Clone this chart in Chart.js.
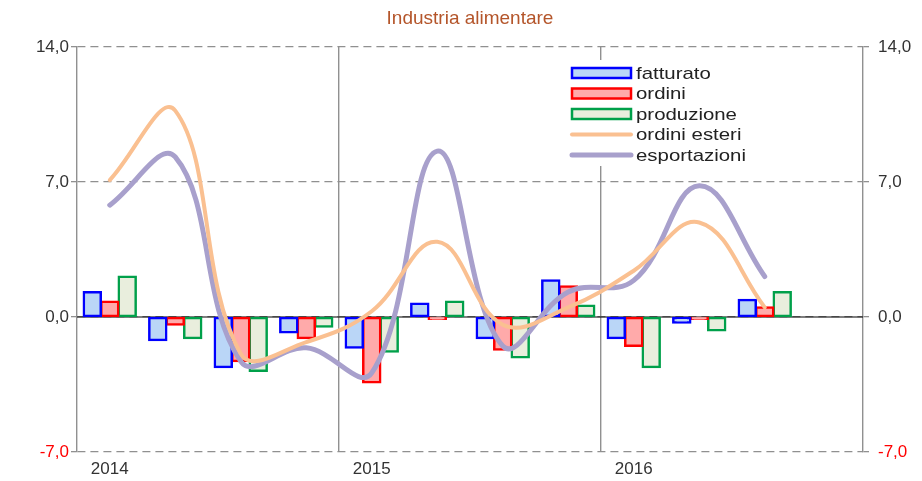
<!DOCTYPE html>
<html>
<head>
<meta charset="utf-8">
<script src="https://cdn.jsdelivr.net/npm/chart.js@4.4.1/dist/chart.umd.min.js"></script>
<style>
  body { margin: 0; background: #fff; }
  canvas { display: block; }
</style>
</head>
<body>
<canvas id="chart" width="922" height="481"></canvas>
<script>
// quarters 2014-2016, year label on first quarter
const quarters = ['2014', '', '', '', '2015', '', '', '', '2016', '', '', ''];
const yTicks = [-7, 0, 7, 14];

const fatturato    = [1.3, -1.2, -2.6, -0.8, -1.6, 0.7, -1.1, 1.9, -1.1, -0.3, 0.9, null];
const ordini       = [0.8, -0.4, -2.3, -1.1, -3.4, -0.1, -1.7, 1.6, -1.5, -0.1, 0.5, null];
const produzione   = [2.1, -1.1, -2.8, -0.5, -1.8, 0.8, -2.1, 0.6, -2.6, -0.7, 1.3, null];
const ordiniEsteri = [7.1, 10.7, -1.9, -1.3, 0.3, 3.9, -0.4, 0.5, 2.4, 4.9, 0.5, null];
const esportazioni = [5.8, 8.3, -2.3, -1.6, -2.9, 8.6, -1.5, 1.3, 1.9, 6.8, 2.1, null];

const FONT = '"Liberation Sans", Arial, sans-serif';
const GRID = '#909090';

const fmt = v => v.toFixed(1).replace('.', ',');
const tickColor = ctx => ctx.tick && ctx.tick.value < 0 ? '#ff0000' : '#333333';

// title, zero line and the boxed legend
const extras = {
    id: 'extras',
    beforeDatasetsDraw(chart) {
        const { ctx, chartArea, scales } = chart;
        const y0 = scales.y.getPixelForValue(0);
        ctx.save();
        ctx.strokeStyle = '#000';
        ctx.lineWidth = 1.2;
        ctx.beginPath();
        ctx.moveTo(chartArea.left, y0);
        ctx.lineTo(chartArea.right, y0);
        ctx.stroke();
        ctx.restore();
    },
    afterDraw(chart) {
        const { ctx, chartArea } = chart;
        ctx.save();
        ctx.fillStyle = '#b4552a';
        ctx.font = '19px ' + FONT;
        ctx.textAlign = 'center';
        ctx.textBaseline = 'middle';
        ctx.fillText('Industria alimentare', (chartArea.left + chartArea.right) / 2, 19);

        // legend
        ctx.fillStyle = '#fff';
        ctx.fillRect(566, 60, 192, 106);
        const x = 572, w = 59;
        chart.data.datasets.forEach((ds, i) => {
            const cy = 73 + i * 20.5;
            if (ds.type === 'line') {
                ctx.strokeStyle = ds.borderColor;
                ctx.lineWidth = ds.borderWidth;
                ctx.lineCap = 'round';
                ctx.beginPath();
                ctx.moveTo(x, cy);
                ctx.lineTo(x + w, cy);
                ctx.stroke();
            } else {
                ctx.fillStyle = ds.backgroundColor;
                ctx.fillRect(x, cy - 5, w, 10);
                ctx.strokeStyle = ds.borderColor;
                ctx.lineWidth = 2.5;
                ctx.strokeRect(x, cy - 5, w, 10);
            }
            ctx.save();
            ctx.translate(x + w + 5, cy);
            ctx.scale(1.2, 1);
            ctx.fillStyle = '#222';
            ctx.font = '17px ' + FONT;
            ctx.textAlign = 'left';
            ctx.fillText(ds.label, 0, 1);
            ctx.restore();
        });
        ctx.restore();
    }
};

const barSet = (label, data, fill, border) => ({
    type: 'bar', label, data,
    backgroundColor: fill, borderColor: border, borderWidth: 2.5,
    borderSkipped: false, barPercentage: 1, categoryPercentage: 0.8,
    inflateAmount: 1, order: 2
});
const lineSet = (label, data, color, width) => ({
    type: 'line', label, data,
    borderColor: color, borderWidth: width, pointRadius: 0,
    tension: 0.4, fill: false, order: 1,
    borderCapStyle: 'round'
});

new Chart(document.getElementById('chart'), {
    data: {
        labels: quarters,
        datasets: [
            barSet('fatturato', fatturato, '#bad6f7', '#0000ff'),
            barSet('ordini', ordini, '#ffaaaa', '#ff0000'),
            barSet('produzione', produzione, '#e9eedd', '#00a04a'),
            lineSet('ordini esteri', ordiniEsteri, '#fac091', 4),
            lineSet('esportazioni', esportazioni, '#a8a0cc', 5)
        ]
    },
    options: {
        responsive: false,
        animation: false,
        devicePixelRatio: 1,
        layout: { padding: { top: 47, left: 0, right: 0, bottom: 0 } },
        plugins: { legend: { display: false }, tooltip: { enabled: false }, title: { display: false } },
        scales: {
            x: {
                offset: true,
                grid: {
                    offset: true,
                    drawTicks: false,
                    lineWidth: 1.4,
                    color: ctx => (ctx.index > 0 && ctx.index % 4 === 0) ? GRID : 'rgba(0,0,0,0)'
                },
                border: { display: false },
                ticks: {
                    padding: 7, maxRotation: 0, autoSkip: false,
                    color: '#333', font: { family: FONT, size: 17 }
                },
                afterFit: s => { s.height = 29; }
            },
            y: {
                position: 'left',
                min: -7, max: 14,
                afterBuildTicks: s => { s.ticks = yTicks.map(v => ({ value: v })); },
                grid: { color: GRID, lineWidth: 1.3, tickLength: 6 },
                border: { display: true, color: GRID, width: 1.4, dash: [8, 5] },
                ticks: { padding: 2, color: tickColor, font: { family: FONT, size: 17 }, callback: fmt },
                afterFit: s => { s.width = 77; }
            },
            y2: {
                position: 'right',
                min: -7, max: 14,
                afterBuildTicks: s => { s.ticks = yTicks.map(v => ({ value: v })); },
                grid: { drawOnChartArea: false, color: GRID, tickLength: 6, lineWidth: 1.3 },
                border: { display: true, color: GRID, width: 1.4 },
                ticks: { padding: 9, color: tickColor, font: { family: FONT, size: 17 }, callback: fmt },
                afterFit: s => { s.width = 59; }
            }
        }
    },
    plugins: [extras]
});
</script>
</body>
</html>
